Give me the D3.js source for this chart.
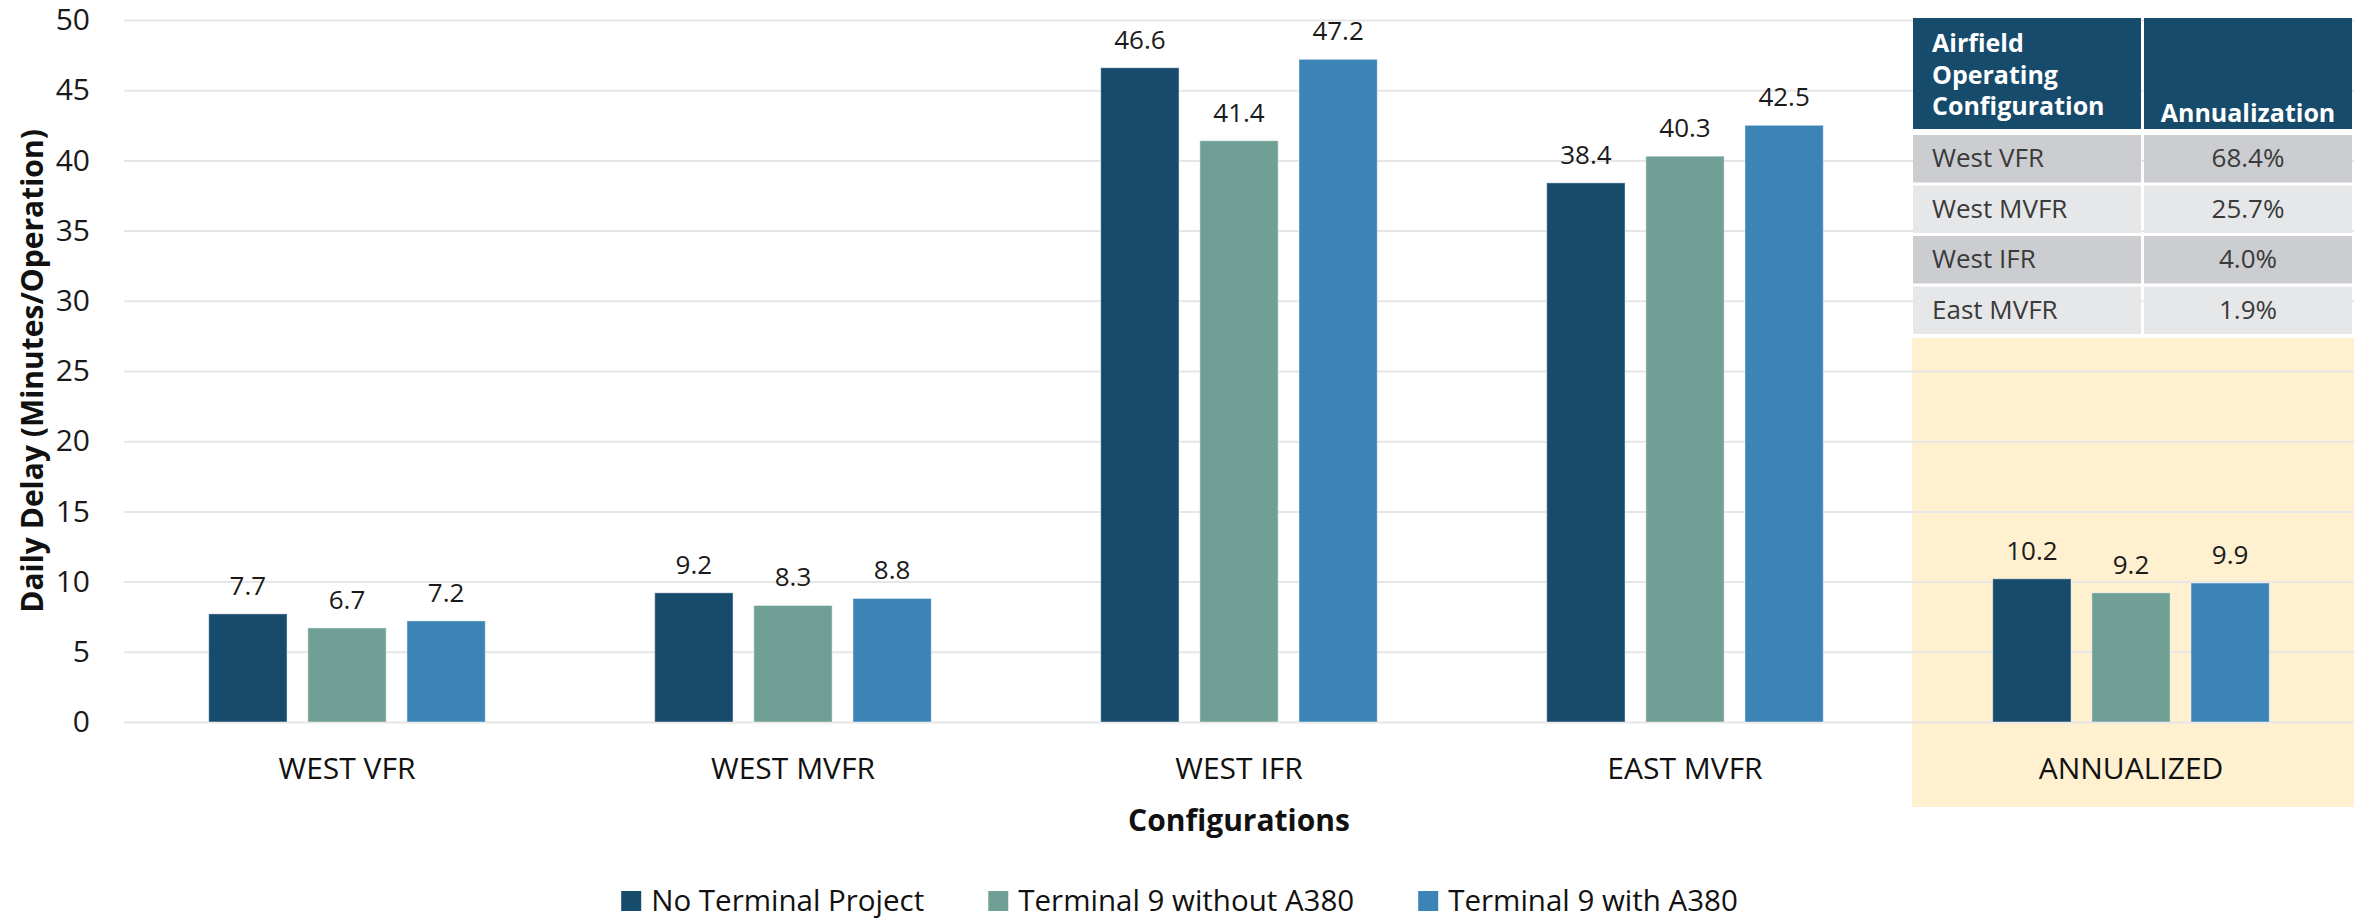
<!DOCTYPE html>
<html>
<head>
<meta charset="utf-8">
<script src="https://cdn.jsdelivr.net/npm/d3@7"></script>
<style>
	body{margin:0;background:#fff;}
	svg{display:block;font-family:"Segoe UI","Open Sans",sans-serif;}
</style>
</head>
<body>
<script>
// chart values
const categories = ["WEST VFR","WEST MVFR","WEST IFR","EAST MVFR","ANNUALIZED"];
const seriesNames = ["No Terminal Project","Terminal 9 without A380","Terminal 9 with A380"];
const noProject = [7.7,9.2,46.6,38.4,10.2];
const withoutA380 = [6.7,8.3,41.4,40.3,9.2];
const withA380 = [7.2,8.8,47.2,42.5,9.9];
const yTicks = [0,5,10,15,20,25,30,35,40,45,50];
const seriesColors = ["#174b6b","#70a095","#3d84b6"];

// annualization table
const tableHead = [["Airfield","Operating","Configuration"],["Annualization"]];
const tableConfigs = ["West VFR","West MVFR","West IFR","East MVFR"];
const tableShares = ["68.4%","25.7%","4.0%","1.9%"];

window.onload=function(){
	var width=2359,height=921;
	var left=124,right=2354,top=20,bottom=722;

	const svg = d3.select("body")
								.append("svg")
									.attr("width",width)
									.attr("height",height);

	var x = d3.scaleBand()
						.domain(categories)
						.range([left,right]);
	var x1 = d3.scaleBand()
						 .domain(seriesNames)
						 .range([x.bandwidth()*0.19,x.bandwidth()*0.81])
						 .paddingInner(0.21);
	var y = d3.scaleLinear()
						.domain([0,50])
						.range([bottom,top]);
	var color = d3.scaleOrdinal()
								.domain(seriesNames)
								.range(seriesColors);

	var rows = categories.map(function(c,i){
		return {cat:c,vals:[noProject[i],withoutA380[i],withA380[i]]};
	});

	// shaded annualized column
	var annX = x("ANNUALIZED")+4;
	svg.append("rect")
			.attr("x",annX)
			.attr("y",338)
			.attr("width",right-annX)
			.attr("height",807-338)
			.attr("fill","#fff0d0");

	// y axis with gridlines
	var yAxis = svg.append("g")
								 .attr("transform","translate("+left+",0)")
								 .call(d3.axisLeft(y).tickValues(yTicks).tickSize(-(right-left)).tickPadding(34));
	yAxis.select(".domain").remove();
	yAxis.selectAll("line").attr("stroke","#e6e6e6").attr("stroke-width",2);
	yAxis.selectAll("text")
			 .attr("font-size",30)
			 .attr("fill","#1a1a1a")
			 .style("font-family","'Segoe UI','Open Sans',sans-serif");

	// table
	var tx0=1913,tw0=228,tx1=2144,tw1=208;
	var tbl = svg.append("g");
	tbl.append("rect").attr("x",tx0).attr("y",18).attr("width",tw0).attr("height",111).attr("fill","#174b6b");
	tbl.append("rect").attr("x",tx1).attr("y",18).attr("width",tw1).attr("height",111).attr("fill","#174b6b");
	tbl.append("text")
			.attr("x",tx0+19)
			.attr("font-size",25)
			.attr("font-weight","bold")
			.attr("fill","#fff")
			.selectAll("tspan")
			.data(tableHead[0])
			.enter().append("tspan")
				.attr("x",tx0+19)
				.attr("y",function(d,i){return 52+i*31.5;})
				.text(function(d){return d;});
	tbl.append("text")
			.attr("x",tx1+tw1/2)
			.attr("y",122)
			.attr("text-anchor","middle")
			.attr("font-size",25)
			.attr("font-weight","bold")
			.attr("fill","#fff")
			.text(tableHead[1][0]);
	var trow = tbl.selectAll(".trow")
								.data(tableConfigs)
								.enter().append("g")
									.attr("class","trow")
									.attr("transform",function(d,i){return "translate(0,"+(135+i*50.5)+")";});
	trow.append("rect").attr("x",tx0).attr("width",tw0).attr("height",47.5)
			.attr("fill",function(d,i){return i%2?"#e6e7e9":"#cbcdd0";});
	trow.append("rect").attr("x",tx1).attr("width",tw1).attr("height",47.5)
			.attr("fill",function(d,i){return i%2?"#e6e7e9":"#cbcdd0";});
	trow.append("text")
			.attr("x",tx0+19)
			.attr("y",32)
			.attr("font-size",26)
			.attr("fill","#3a3a3a")
			.text(function(d){return d;});
	trow.append("text")
			.attr("x",tx1+tw1/2)
			.attr("y",32)
			.attr("text-anchor","middle")
			.attr("font-size",26)
			.attr("fill","#3a3a3a")
			.text(function(d,i){return tableShares[i];});

	// bars
	var grp = svg.selectAll(".grp")
							 .data(rows)
							 .enter().append("g")
								 .attr("class","grp")
								 .attr("transform",function(d){return "translate("+x(d.cat)+",0)";});
	var cell = grp.selectAll(".bar")
								.data(function(d){return d.vals.map(function(v,i){return {name:seriesNames[i],v:v};});})
								.enter();
	cell.append("rect")
				.attr("class","bar")
				.attr("x",function(d){return x1(d.name);})
				.attr("y",function(d){return y(d.v);})
				.attr("width",x1.bandwidth())
				.attr("height",function(d){return y(0)-y(d.v);})
				.attr("fill",function(d){return color(d.name);})
				.attr("stroke","#ffffff")
				.attr("stroke-opacity",0.45)
				.attr("stroke-width",1);
	cell.append("text")
				.attr("x",function(d){return x1(d.name)+x1.bandwidth()/2;})
				.attr("y",function(d){return y(d.v)-19;})
				.attr("text-anchor","middle")
				.attr("font-size",26)
				.attr("fill","#1a1a1a")
				.text(function(d){return d.v.toFixed(1);});

	// x axis
	var xAxis = svg.append("g")
								 .attr("transform","translate(0,"+bottom+")")
								 .call(d3.axisBottom(x).tickSize(0).tickPadding(36));
	xAxis.select(".domain").remove();
	xAxis.selectAll("text")
			 .attr("font-size",30)
			 .attr("fill","#111")
			 .style("font-family","'Segoe UI','Open Sans',sans-serif");

	// axis titles
	svg.append("text")
			.attr("x",(left+right)/2)
			.attr("y",831)
			.attr("text-anchor","middle")
			.attr("font-size",30)
			.attr("font-weight","bold")
			.attr("fill","#111")
			.text("Configurations");
	svg.append("text")
			.attr("transform","translate(43,"+((top+bottom)/2)+") rotate(-90)")
			.attr("text-anchor","middle")
			.attr("font-size",30)
			.attr("font-weight","bold")
			.attr("fill","#111")
			.text("Daily Delay (Minutes/Operation)");

	// legend
	var legend = svg.append("g");
	var lx = 0;
	seriesNames.forEach(function(n){
		var item = legend.append("g").attr("transform","translate("+lx+",0)");
		item.append("rect").attr("y",891).attr("width",20).attr("height",20).attr("fill",color(n));
		var t = item.append("text")
								.attr("x",30)
								.attr("y",911)
								.attr("font-size",29.5)
								.attr("fill","#111")
								.text(n);
		lx += 30+t.node().getComputedTextLength()+64;
	});
	var lw = lx-64;
	legend.attr("transform","translate("+(width/2-lw/2)+",0)");
}
</script>
</body>
</html>
